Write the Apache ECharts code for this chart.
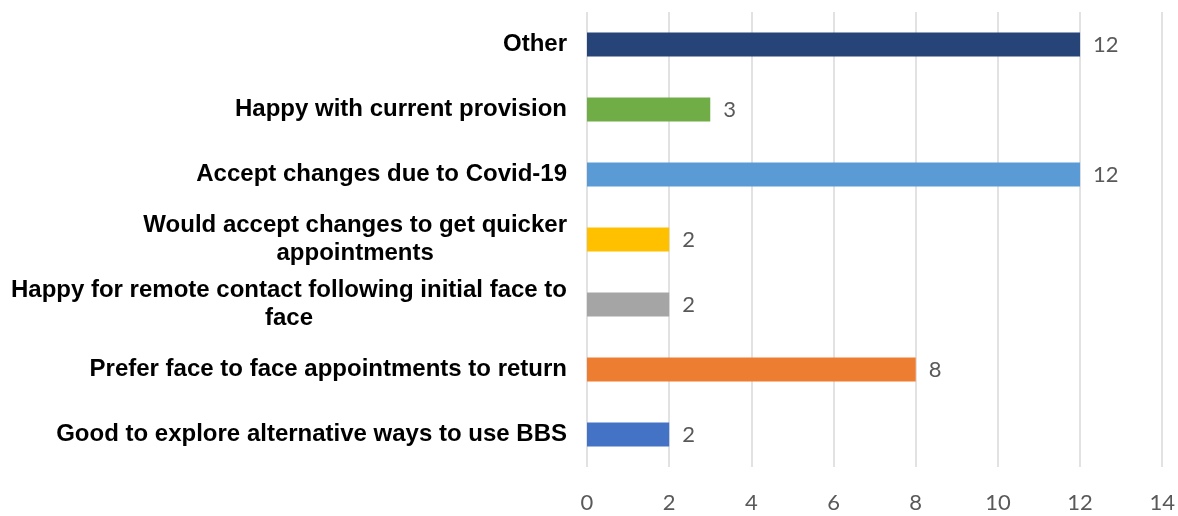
<!DOCTYPE html>
<html>
<head>
<meta charset="utf-8">
<script src="https://cdn.jsdelivr.net/npm/echarts@6/dist/echarts.min.js"></script>
<style>
  html, body { margin: 0; padding: 0; background: #fff; }
  #chart { width: 1178px; height: 516px; }
</style>
</head>
<body>
<div id="chart"></div>
<script>
// categories from bottom to top (category axis starts at the bottom)
const categories = [
  'Good to explore alternative ways to use BBS',
  'Prefer face to face appointments to return',
  'Happy for remote contact following initial face to\nface',
  'Would accept changes to get quicker\nappointments',
  'Accept changes due to Covid-19',
  'Happy with current provision',
  'Other'
]
const values = [2, 8, 2, 2, 12, 3, 12]
const barColors = ['#4472C4', '#ED7D31', '#A5A5A5', '#FFC000', '#5B9BD5', '#70AD47', '#264478']
const xTicks = [0, 2, 4, 6, 8, 10, 12, 14]

const chart = echarts.init(document.getElementById('chart'))
chart.setOption({
  animation: false,
  grid: {
    left: 587,
    right: 12,
    top: 12,
    bottom: 49
  },
  xAxis: {
    type: 'value',
    min: xTicks[0],
    max: xTicks[xTicks.length - 1],
    interval: 2,
    axisLine: { show: false },
    axisTick: { show: false },
    splitLine: { lineStyle: { color: '#D9D9D9', width: 1.5 } },
    axisLabel: {
      color: '#595959',
      fontFamily: 'Lato',
      fontSize: 22,
      margin: 25
    }
  },
  yAxis: {
    type: 'category',
    data: categories,
    axisLine: { show: false },
    axisTick: { show: false },
    axisLabel: {
      margin: 20,
      formatter: function (v) {
        return v.split('\n').map(function (s) { return '{c|' + s + '}' }).join('\n')
      },
      rich: {
        c: {
          align: 'center',
          color: '#000',
          fontFamily: 'Liberation Sans, Arial',
          fontWeight: 'bold',
          fontSize: 24,
          lineHeight: 28
        }
      }
    }
  },
  series: [
    {
      type: 'bar',
      data: values.map(function (v, i) {
        return { value: v, itemStyle: { color: barColors[i] } }
      }),
      barWidth: 24,
      label: {
        show: true,
        position: 'right',
        distance: 13,
        color: '#595959',
        fontFamily: 'Lato',
        fontSize: 22
      }
    }
  ]
})
</script>
</body>
</html>
